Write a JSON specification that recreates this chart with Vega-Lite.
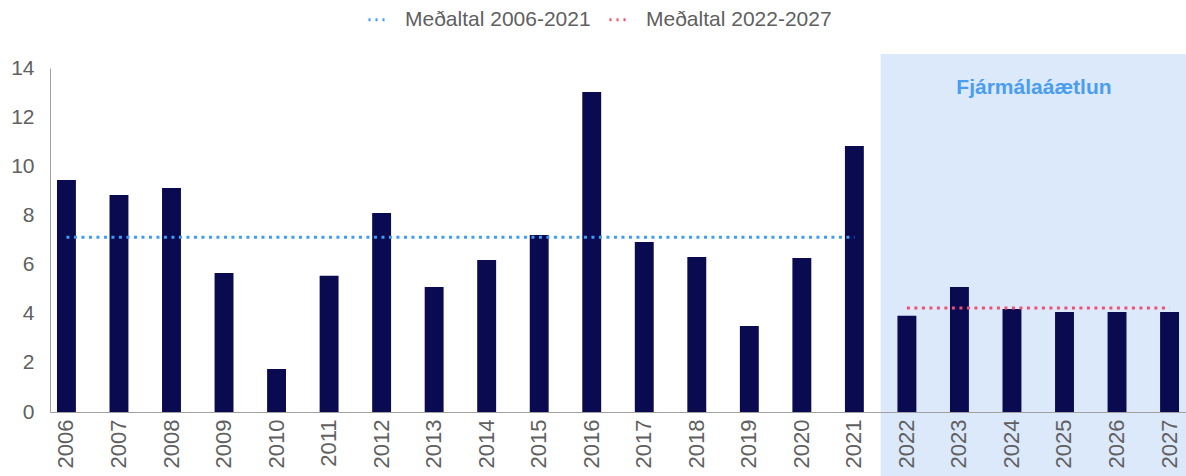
{
  "$schema": "https://vega.github.io/schema/vega-lite/v6.json",
  "width": 1136,
  "height": 344,
  "autosize": {"type": "none"},
  "padding": {"left": 50, "top": 68, "right": 0, "bottom": 64},
  "background": "white",
  "config": {"view": {"stroke": null}, "font": "Liberation Sans"},
  "datasets": {
    "bars": [
      {"year": "2006", "value": 9.44},
      {"year": "2007", "value": 8.83},
      {"year": "2008", "value": 9.12},
      {"year": "2009", "value": 5.66},
      {"year": "2010", "value": 1.75},
      {"year": "2011", "value": 5.54},
      {"year": "2012", "value": 8.10},
      {"year": "2013", "value": 5.09},
      {"year": "2014", "value": 6.19},
      {"year": "2015", "value": 7.20},
      {"year": "2016", "value": 13.02},
      {"year": "2017", "value": 6.92},
      {"year": "2018", "value": 6.31},
      {"year": "2019", "value": 3.50},
      {"year": "2020", "value": 6.27},
      {"year": "2021", "value": 10.83},
      {"year": "2022", "value": 3.92},
      {"year": "2023", "value": 5.09},
      {"year": "2024", "value": 4.19},
      {"year": "2025", "value": 4.07},
      {"year": "2026", "value": 4.07},
      {"year": "2027", "value": 4.07}
    ],
    "avg": [
      {"series": "Meðaltal 2006-2021", "start": "2006", "end": "2021", "value": 7.11},
      {"series": "Meðaltal 2022-2027", "start": "2022", "end": "2027", "value": 4.23}
    ],
    "region": [
      {"label": "Fjármálaáætlun", "from": "2022", "to": "2027"}
    ]
  },
  "layer": [
    {
      "data": {"name": "region"},
      "mark": {"type": "rect", "color": "#dce9fb", "clip": false},
      "encoding": {
        "x": {"field": "from", "type": "ordinal", "bandPosition": -0.89, "title": null},
        "x2": {"field": "to", "bandPosition": 2},
        "y": {"datum": 14.57, "type": "quantitative", "title": null},
        "y2": {"datum": -3}
      }
    },
    {
      "data": {"name": "bars"},
      "mark": {"type": "bar", "color": "#0a0a50"},
      "encoding": {
        "x": {
          "field": "year",
          "type": "ordinal",
          "title": null,
          "scale": {
            "domain": ["2006","2007","2008","2009","2010","2011","2012","2013","2014","2015","2016","2017","2018","2019","2020","2021","2022","2023","2024","2025","2026","2027"],
            "paddingInner": 0.64,
            "paddingOuter": 0.133
          },
          "axis": {
            "title": null,
            "labelAngle": -90,
            "labelFontSize": 22,
            "labelColor": "#606060",
            "ticks": false,
            "domainColor": "#a0a0a0",
            "labelPadding": 7,
            "zindex": 1
          }
        },
        "y": {
          "field": "value",
          "type": "quantitative",
          "title": null,
          "scale": {"domain": [0, 14], "nice": false},
          "axis": {
            "title": null,
            "values": [0, 2, 4, 6, 8, 10, 12, 14],
            "labelFontSize": 21,
            "labelColor": "#606060",
            "ticks": false,
            "grid": false,
            "domainColor": "#a0a0a0",
            "labelPadding": 16
          }
        }
      }
    },
    {
      "data": {"name": "avg"},
      "mark": {"type": "rule", "strokeWidth": 3, "strokeDash": [3, 4.5]},
      "encoding": {
        "x": {"field": "start", "type": "ordinal", "title": null},
        "x2": {"field": "end"},
        "y": {"field": "value", "type": "quantitative", "title": null},
        "color": {
          "field": "series",
          "type": "nominal",
          "scale": {
            "domain": ["Meðaltal 2006-2021", "Meðaltal 2022-2027"],
            "range": ["#3d9df3", "#f0506e"]
          },
          "legend": {
            "orient": "none",
            "legendX": 317,
            "legendY": -60,
            "direction": "horizontal",
            "title": null,
            "symbolType": "stroke",
            "symbolStrokeWidth": 3,
            "symbolDash": [2, 5],
            "symbolSize": 400,
            "labelFontSize": 21,
            "labelLimit": 400,
            "labelColor": "#606060",
            "labelOffset": 15,
            "columnPadding": 12,
            "labelFont": "Liberation Sans"
          }
        }
      }
    },
    {
      "data": {"name": "region"},
      "mark": {"type": "text", "fontWeight": "bold", "fontSize": 21, "color": "#4a9df0", "align": "center", "baseline": "middle", "dx": 22},
      "encoding": {
        "x": {"datum": "2024", "type": "ordinal", "title": null},
        "y": {"datum": 13.2, "type": "quantitative", "title": null},
        "text": {"field": "label"}
      }
    }
  ]
}
